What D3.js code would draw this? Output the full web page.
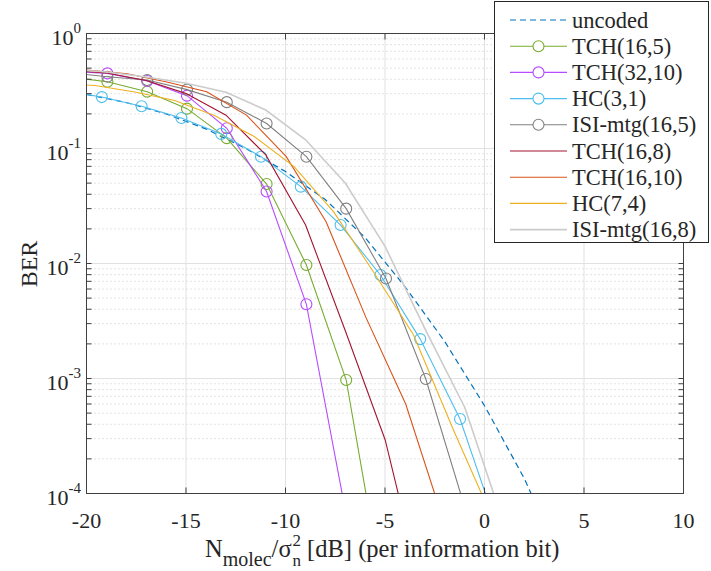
<!DOCTYPE html>
<html><head><meta charset="utf-8">
<script src="https://cdn.jsdelivr.net/npm/d3@7"></script>
<style>body{margin:0;background:#fff}svg{display:block}</style>
</head><body>
<svg id="c" width="711" height="571" font-family="'Liberation Serif','Times New Roman',Times,'DejaVu Serif',serif"></svg>
<script>
// ---- data ----
const xUncoded   = [-20,-18,-16,-14,-12,-10,-8,-6,-4,-2,0,2,4];
const berUncoded = [0.295,0.251,0.2,0.148,0.1,0.063,0.036,0.0168,0.0063,0.0021,5.8e-4,1.35e-4,2.3e-5];

const xTCH165   = [-20.95,-18.95,-16.95,-14.95,-12.95,-10.95,-8.95,-6.95,-4.95];
const berTCH165 = [0.42,0.381,0.312,0.222,0.123,0.0491,0.0097,9.7e-4,1e-5];

const xTCH3210   = [-20.95,-18.95,-16.95,-14.95,-12.95,-10.95,-8.95,-6.95];
const berTCH3210 = [0.47,0.45,0.386,0.288,0.15,0.0423,0.00442,6.5e-5];

const xHC31   = [-21.23,-19.23,-17.23,-15.23,-13.23,-11.23,-9.23,-7.23,-5.23,-3.23,-1.23,0.77];
const berHC31 = [0.32,0.28,0.233,0.184,0.134,0.0849,0.0466,0.0216,0.00794,0.0022,4.44e-4,4.3e-5];

const xISI165   = [-20.95,-18.95,-16.95,-14.95,-12.95,-10.95,-8.95,-6.95,-4.95,-2.95,-0.95];
const berISI165 = [0.457,0.421,0.394,0.325,0.253,0.165,0.0849,0.03,0.0074,9.9e-4,7.2e-5];

const xTCH168   = [-20.99,-18.99,-16.99,-14.99,-12.99,-10.99,-8.99,-6.99,-4.99,-2.99];
const berTCH168 = [0.48,0.454,0.39,0.3,0.195,0.088,0.0216,0.00259,2.92e-4,1.1e-5];

const xTCH1610   = [-21.96,-19.96,-17.96,-15.96,-13.96,-11.96,-9.96,-7.96,-5.96,-3.96,-1.96];
const berTCH1610 = [0.5,0.48,0.447,0.379,0.312,0.195,0.0849,0.0231,0.0034,6.0e-4,5.1e-5];

const xHC74   = [-21.57,-19.57,-17.57,-15.57,-13.57,-11.57,-9.57,-7.57,-5.57,-3.57,-1.57,0.43];
const berHC74 = [0.37,0.353,0.31,0.261,0.194,0.127,0.0695,0.028,0.0084,0.0024,3.6e-4,5.9e-5];

const xISI168   = [-20.99,-18.99,-16.99,-14.99,-12.99,-10.99,-8.99,-6.99,-4.99,-2.99,-0.99,1.01];
const berISI168 = [0.49,0.463,0.419,0.369,0.308,0.216,0.119,0.0498,0.014,0.0027,5.6e-4,5.2e-5];

const seriesNames = ["uncoded","TCH(16,5)","TCH(32,10)","HC(3,1)","ISI-mtg(16,5)","TCH(16,8)","TCH(16,10)","HC(7,4)","ISI-mtg(16,8)"];
const xTicks = [-20,-15,-10,-5,0,5,10];
const yTickExps = [0,-1,-2,-3,-4];

// ---- styling ----
const styles = [
  {color:"#0072BD", dash:"6,4", marker:false, w:1.2},
  {color:"#77AC30", dash:null, marker:true, w:1.1},
  {color:"#B64BFF", dash:null, marker:true, w:1.1},
  {color:"#4DBEEE", dash:null, marker:true, w:1.1},
  {color:"#808080", dash:null, marker:true, w:1.1},
  {color:"#A2142F", dash:null, marker:false, w:1.1},
  {color:"#D95319", dash:null, marker:false, w:1.1},
  {color:"#EDB120", dash:null, marker:false, w:1.1},
  {color:"#CCCCCC", dash:null, marker:false, w:1.6}
];
const xs = [xUncoded,xTCH165,xTCH3210,xHC31,xISI165,xTCH168,xTCH1610,xHC74,xISI168];
const ys = [berUncoded,berTCH165,berTCH3210,berHC31,berISI165,berTCH168,berTCH1610,berHC74,berISI168];

const L=86.5, R=683.5, T=33.5, B=493.5;
const x = d3.scaleLinear().domain([-20,10]).range([L,R]);
const y = d3.scaleLog().domain([1e-4,1]).range([B,T]);
const svg = d3.select("#c");
const TXT = "#262626";

// grid
const g = svg.append("g");
const minor=[];
for(let e=-4;e<0;e++) for(let m=2;m<=9;m++) minor.push(m*Math.pow(10,e));
g.selectAll(".mn").data(minor).enter().append("line")
  .attr("x1",L).attr("x2",R).attr("y1",d=>y(d)).attr("y2",d=>y(d))
  .attr("stroke","#c8c8c8").attr("stroke-width",1).attr("stroke-dasharray","1,3");
g.selectAll(".mj").data(yTickExps).enter().append("line")
  .attr("x1",L).attr("x2",R).attr("y1",d=>y(Math.pow(10,d))).attr("y2",d=>y(Math.pow(10,d)))
  .attr("stroke","#e1e1e1").attr("stroke-width",1);
g.selectAll(".vx").data(xTicks).enter().append("line")
  .attr("y1",T).attr("y2",B).attr("x1",d=>x(d)).attr("x2",d=>x(d))
  .attr("stroke","#e1e1e1").attr("stroke-width",1);

// clip
svg.append("clipPath").attr("id","cp").append("rect").attr("x",L).attr("y",T).attr("width",R-L).attr("height",B-T);
const plot = svg.append("g").attr("clip-path","url(#cp)");
const line = d3.line().x(d=>x(d[0])).y(d=>y(d[1]));
xs.forEach((xa,i)=>{
  const pts = xa.map((v,j)=>[v,ys[i][j]]);
  const s = styles[i];
  plot.append("path").datum(pts).attr("d",line).attr("fill","none")
    .attr("stroke",s.color).attr("stroke-width",s.w).attr("stroke-dasharray",s.dash);
  if(s.marker){
    plot.selectAll(null).data(pts).enter().append("circle")
      .attr("cx",d=>x(d[0])).attr("cy",d=>y(d[1])).attr("r",5.5)
      .attr("fill","none").attr("stroke",s.color).attr("stroke-width",1.1);
  }
});

// axes box & ticks
const ax = svg.append("g").attr("stroke","#404040").attr("stroke-width",1);
ax.append("rect").attr("x",L).attr("y",T).attr("width",R-L).attr("height",B-T).attr("fill","none");
xTicks.forEach(v=>{
  ax.append("line").attr("x1",x(v)).attr("x2",x(v)).attr("y1",B).attr("y2",B-6);
  ax.append("line").attr("x1",x(v)).attr("x2",x(v)).attr("y1",T).attr("y2",T+6);
});
minor.concat(yTickExps.map(e=>Math.pow(10,e))).forEach(v=>{
  ax.append("line").attr("x1",L).attr("x2",L+5).attr("y1",y(v)).attr("y2",y(v));
  ax.append("line").attr("x1",R).attr("x2",R-5).attr("y1",y(v)).attr("y2",y(v));
});

// tick labels
svg.selectAll(".xl").data(xTicks).enter().append("text")
  .attr("x",d=>x(d)).attr("y",528).attr("text-anchor","middle").attr("font-size",22).attr("fill",TXT).text(d=>d);
yTickExps.forEach(e=>{
  const t = svg.append("text").attr("x",81).attr("y",y(Math.pow(10,e))+11).attr("text-anchor","end").attr("font-size",22).attr("fill",TXT);
  t.append("tspan").text("10");
  t.append("tspan").attr("dy",-12).attr("font-size",15).text(String(e));
});

// x axis label, laid out piece by piece
(function(){
  let cx = 205;
  const base = 557;
  function piece(str, size, dy){
    const t = svg.append("text").attr("x",cx).attr("y",base+dy).attr("font-size",size).attr("fill",TXT).text(str);
    return t.node().getComputedTextLength();
  }
  cx += piece("N",24.5,0);
  cx += piece("molec",20,9);
  cx += piece("/σ",24.5,0);
  cx += 1;
  const w1 = piece("2",17,-11);
  const w2 = piece("n",17,9);
  cx += Math.max(w1,w2) + 6;
  piece("[dB] (per information bit)",24.5,0);
})();
svg.append("text").attr("transform","translate(37,264) rotate(-90)").attr("text-anchor","middle")
  .attr("font-size",24).attr("fill",TXT).text("BER");

// legend
const lg = svg.append("g");
lg.append("rect").attr("x",494.5).attr("y",1.5).attr("width",214).attr("height",241)
  .attr("fill","#fff").attr("stroke","#262626").attr("stroke-width",1);
seriesNames.forEach((n,i)=>{
  const yy = 20 + i*26.2, s = styles[i];
  lg.append("line").attr("x1",510).attr("x2",567).attr("y1",yy).attr("y2",yy)
    .attr("stroke",s.color).attr("stroke-width",s.w).attr("stroke-dasharray",s.dash);
  if(s.marker) lg.append("circle").attr("cx",538.5).attr("cy",yy).attr("r",5.5)
    .attr("fill","#fff").attr("stroke",s.color).attr("stroke-width",1.1);
  lg.append("text").attr("x",572).attr("y",yy+7.5).attr("font-size",22.5).attr("fill",TXT).text(n);
});
</script>
</body></html>
